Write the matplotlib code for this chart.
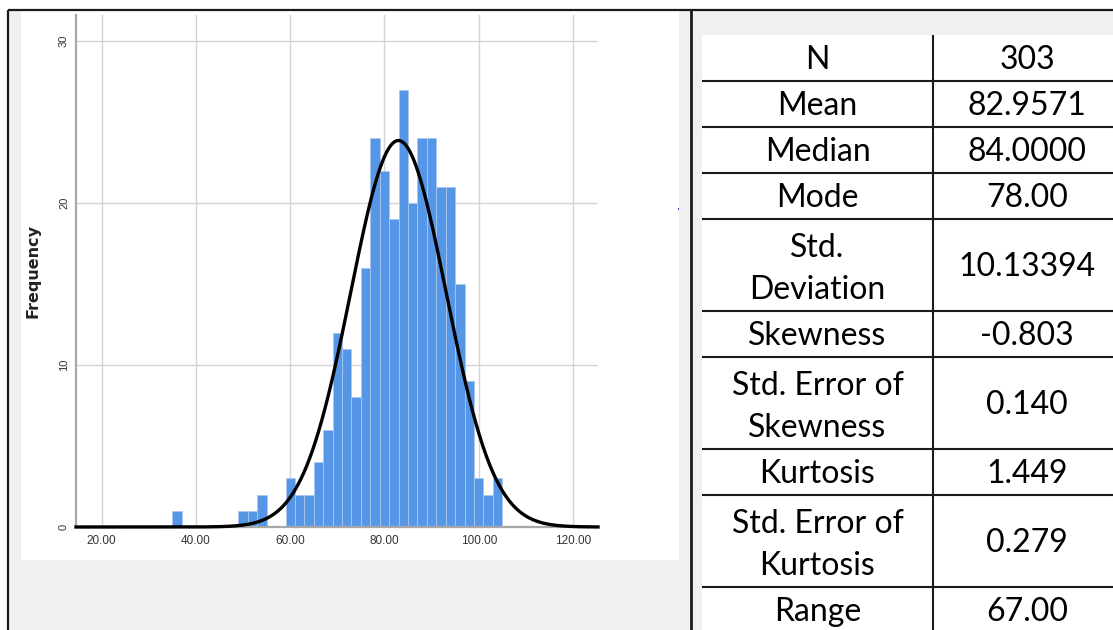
import numpy as np
import matplotlib
matplotlib.use("Agg")
import matplotlib.pyplot as plt
from matplotlib.patches import Rectangle

# ---------------- data ----------------
bin_centers = [36, 38, 40, 42, 44, 46, 48, 50, 52, 54, 56, 58, 60, 62, 64, 66, 68,
               70, 72, 74, 76, 78, 80, 82, 84, 86, 88, 90, 92, 94, 96, 98, 100, 102, 104]
counts = [1, 0, 0, 0, 0, 0, 0, 1, 1, 2, 0, 0, 3, 2, 2, 4, 6,
          12, 11, 8, 16, 24, 22, 19, 27, 20, 24, 24, 21, 21, 15, 9, 3, 2, 3]
bin_width = 2
n_obs = 303
mean_val = 82.9571
sd_val = 10.13394

x_ticks = [20, 40, 60, 80, 100, 120]
x_tick_labels = ["20.00", "40.00", "60.00", "80.00", "100.00", "120.00"]
y_ticks = [0, 10, 20, 30]
y_tick_labels = ["0", "10", "20", "30"]

stat_labels = ["N", "Mean", "Median", "Mode", "Std.\nDeviation", "Skewness",
               "Std. Error of\nSkewness", "Kurtosis", "Std. Error of\nKurtosis", "Range"]
stat_values = ["303", "82.9571", "84.0000", "78.00", "10.13394", "-0.803",
               "0.140", "1.449", "0.279", "67.00"]

# ---------------- figure ----------------
W, H = 1113, 630
fig = plt.figure(figsize=(W / 100, H / 100), dpi=100)
fig.patch.set_facecolor("white")

bg = fig.add_axes([0, 0, 1, 1], zorder=0)
bg.set_xlim(0, W)
bg.set_ylim(H, 0)
bg.axis("off")

# grey screenshot background and white panels
bg.add_patch(Rectangle((8, 10), W - 8, H - 10, fc="#f0f0f0", ec="none"))
bg.add_patch(Rectangle((21, 11), 658, 549, fc="white", ec="none"))
tab_x0, tab_x1, tab_xm = 702, W + 5, 933
tab_y0 = 35
bg.add_patch(Rectangle((tab_x0, tab_y0), tab_x1 - tab_x0, H - tab_y0 + 10, fc="white", ec="none"))

# frame lines
bg.plot([8, W], [10, 10], color="#1a1a1a", lw=1.6, solid_capstyle="butt")
bg.plot([8, 8], [10, H], color="#1a1a1a", lw=1.6, solid_capstyle="butt")
bg.plot([690.5, 690.5], [10, H], color="#1a1a1a", lw=2.0, solid_capstyle="butt")
# small stray blue dot
bg.add_patch(Rectangle((677.5, 208), 1.5, 1.5, fc="#3040ff", ec="none"))

# ---------------- table ----------------
line_h = 46.0
y = tab_y0
bounds = [y]
for lab in stat_labels:
    y += line_h * (lab.count("\n") + 1)
    bounds.append(y)
for yb in bounds[1:]:
    bg.plot([tab_x0, tab_x1], [yb, yb], color="#1a1a1a", lw=1.5, solid_capstyle="butt")
bg.plot([tab_xm, tab_xm], [tab_y0, H], color="#1a1a1a", lw=1.5, solid_capstyle="butt")

font_tab = "Lato"
for i, (lab, val) in enumerate(zip(stat_labels, stat_values)):
    yc = (bounds[i] + bounds[i + 1]) / 2
    off = 4 if "\n" in lab else 2
    bg.text((tab_x0 + tab_xm) / 2, yc + off, lab, ha="center", va="center",
            fontsize=23, family=font_tab, color="black", linespacing=1.5,
            multialignment="center")
    bg.text(1027, yc + 2, val, ha="center", va="center",
            fontsize=23, family=font_tab, color="black")

# ---------------- histogram ----------------
ax_l, ax_r, ax_t, ax_b = 76, 598, 15, 527
ax = fig.add_axes([ax_l / W, 1 - ax_b / H, (ax_r - ax_l) / W, (ax_b - ax_t) / H], zorder=1)
ax.set_facecolor("white")

px_per_unit = (573 - 101.7) / 100.0
x_lo = 20 + (ax_l - 101.7) / px_per_unit
x_hi = 20 + (ax_r - 101.7) / px_per_unit
px_per_count = 16.2
y_hi = (ax_b - ax_t) / px_per_count
ax.set_xlim(x_lo, x_hi)
ax.set_ylim(0, y_hi)

ax.set_axisbelow(True)
ax.grid(True, color="#d4d4d4", lw=1.0)
ax.bar(bin_centers, counts, width=bin_width, color="#5596e6",
       edgecolor="#a8c8f2", linewidth=0.6, zorder=2)

xs = np.linspace(x_lo, x_hi, 600)
pdf = np.exp(-0.5 * ((xs - mean_val) / sd_val) ** 2) / (sd_val * np.sqrt(2 * np.pi))
ax.plot(xs, n_obs * bin_width * pdf, color="black", lw=2.4, zorder=3, clip_on=False)

for s in ["top", "right"]:
    ax.spines[s].set_visible(False)
ax.spines["left"].set_color("#a8a8a8")
ax.spines["left"].set_linewidth(1.6)
ax.spines["bottom"].set_color("#a8a8a8")
ax.spines["bottom"].set_linewidth(1.6)

ax.set_xticks(x_ticks)
ax.set_xticklabels(x_tick_labels, family="Liberation Sans", fontsize=8.5, color="#333333")
ax.set_yticks(y_ticks)
ax.set_yticklabels(y_tick_labels, family="Liberation Sans", fontsize=8, color="#333333",
                   rotation=90, va="center")
ax.tick_params(axis="x", length=0, pad=6)
ax.tick_params(axis="y", length=0, pad=5)

ax.set_ylabel("Frequency", fontsize=11.5, fontweight="bold", family="DejaVu Sans", color="#222222")
ax.yaxis.set_label_coords((40 - ax_l) / (ax_r - ax_l), 0.5)

fig.savefig("out.png", dpi=100)
